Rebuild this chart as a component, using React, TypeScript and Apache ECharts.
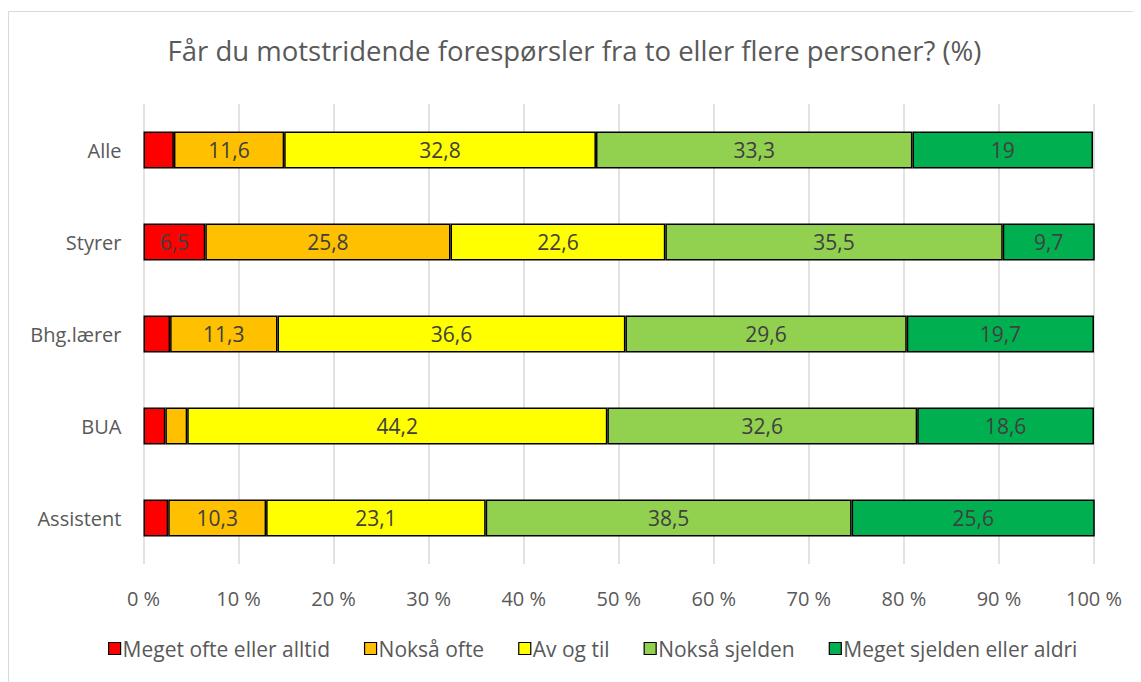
import React, { useEffect, useRef } from "react";
import * as echarts from "echarts";

const categories = ["Alle", "Styrer", "Bhg.lærer", "BUA", "Assistent"];
const seriesNames = [
  "Meget ofte eller alltid",
  "Nokså ofte",
  "Av og til",
  "Nokså sjelden",
  "Meget sjelden eller aldri",
];
const megetOfte = [3.2, 6.5, 2.8, 2.3, 2.6];
const nokssaOfte = [11.6, 25.8, 11.3, 2.3, 10.3];
const avOgTil = [32.8, 22.6, 36.6, 44.2, 23.1];
const nokssaSjelden = [33.3, 35.5, 29.6, 32.6, 38.5];
const megetSjelden = [19, 9.7, 19.7, 18.6, 25.6];
const colors = ["#FF0000", "#FFC000", "#FFFF00", "#92D050", "#00B050"];
const titleText = "Får du motstridende forespørsler fra to eller flere personer? (%)";

const FONT = "'Open Sans', 'Noto Sans', sans-serif";

export default function App() {
  const ref = useRef<HTMLDivElement>(null);
  useEffect(() => {
    if (!ref.current) return;
    const chart = echarts.init(ref.current, null, { renderer: "svg" });
    const values = [megetOfte, nokssaOfte, avOgTil, nokssaSjelden, megetSjelden];
    chart.setOption({
      animation: false,
      textStyle: { fontFamily: FONT },
      title: {
        text: titleText,
        left: "center",
        top: 23,
        textStyle: { fontFamily: FONT, fontSize: 27.5, fontWeight: "normal", color: "#595959" },
      },
      graphic: [
        {
          type: "rect",
          shape: { x: 0.5, y: 3.5, width: 1200, height: 1200 },
          style: { fill: "none", stroke: "#d9d9d9", lineWidth: 1 },
          silent: true,
          z: -10,
        },
      ],
      legend: {
        bottom: 18,
        left: 95,
        itemWidth: 12,
        itemHeight: 12,
        itemGap: 34,
        icon: "rect",
        textStyle: { fontFamily: FONT, fontSize: 21, color: "#595959", padding: [0, 0, 0, -3] },
        data: seriesNames.map((n, i) => ({
          name: n,
          itemStyle: { color: colors[i], borderColor: "#000", borderWidth: 1.2 },
        })),
      },
      grid: { left: 135.5, right: 47, top: 96, bottom: 118, containLabel: false },
      xAxis: {
        type: "value",
        min: 0,
        max: 100,
        interval: 10,
        axisLabel: {
          formatter: (v: number) => `${v} %`,
          fontFamily: FONT,
          fontSize: 20,
          color: "#595959",
          margin: 24,
        },
        axisLine: { show: false },
        axisTick: { show: false },
        splitLine: { lineStyle: { color: "#d9d9d9", width: 1.5 } },
      },
      yAxis: {
        type: "category",
        data: categories,
        inverse: true,
        axisLabel: { fontFamily: FONT, fontSize: 20, color: "#595959", margin: 22 },
        axisLine: { show: false },
        axisTick: { show: false },
      },
      series: seriesNames.map((name, i) => ({
        name,
        type: "bar",
        stack: "total",
        barWidth: 37,
        data: values[i],
        itemStyle: { color: colors[i], borderColor: "#000", borderWidth: 1.5 },
        label: {
          show: true,
          position: "inside",
          fontFamily: FONT,
          fontSize: 21,
          color: "#404040",
          formatter: (p: any) => (p.value >= 5 ? String(p.value).replace(".", ",") : ""),
        },
      })),
    });
    return () => chart.dispose();
  }, []);
  return <div ref={ref} style={{ width: 1133, height: 674 }} />;
}
